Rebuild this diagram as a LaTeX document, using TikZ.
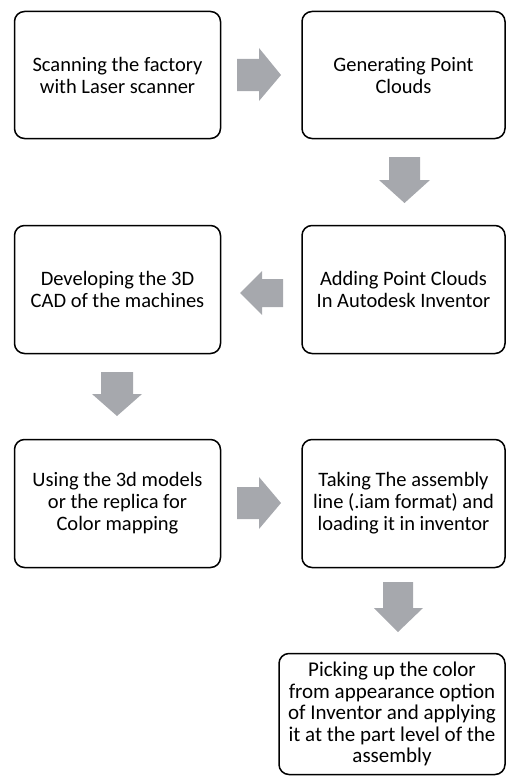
\documentclass[tikz,border=0pt]{standalone}
\usepackage{fontspec}
\setmainfont{Carlito}
\definecolor{arrowgray}{RGB}{166,168,173}
\tikzset{
  stepbox/.style={draw=black, line width=1.5pt, rounded corners=10pt, align=center,
    font=\fontsize{20.5}{22}\selectfont, inner sep=0pt},
  bigtext/.style={font=\fontsize{21}{21.5}\selectfont},
  blockarrow/.style={fill=arrowgray, draw=none}
}
\begin{document}
\begin{tikzpicture}[x=1pt,y=-1pt]
\useasboundingbox (0,0) rectangle (506,776);
\node[stepbox, minimum width=206pt, minimum height=127pt] (b1) at (117.5,75) {Scanning the factory\\with Laser scanner};
\node[stepbox, minimum width=203pt, minimum height=127pt] (b2) at (403.5,75) {Generating Point\\Clouds};
\node[stepbox, minimum width=203pt, minimum height=128pt] (b3) at (403.5,289.5) {Adding Point Clouds\\In Autodesk Inventor};
\node[stepbox, minimum width=206pt, minimum height=128pt] (b4) at (117.5,289.5) {Developing the 3D\\CAD of the machines};
\node[stepbox, minimum width=206pt, minimum height=128pt] (b5) at (117.5,503.5) {Using the 3d models\\or the replica for\\Color mapping};
\node[stepbox, minimum width=203pt, minimum height=128pt] (b6) at (403.5,503.5) {Taking The assembly\\line (.iam format) and\\loading it in inventor};
\node[stepbox, bigtext, minimum width=226pt, minimum height=121pt] (b7) at (392,714) {Picking up the color\\from appearance option\\of Inventor and applying\\it at the part level of the\\assembly};
% block arrows
\fill[blockarrow] (237,59) -- (259,59) -- (259,48) -- (281,75) -- (259,101) -- (259,91) -- (237,91) -- cycle;
\fill[blockarrow] (389,157) -- (420,157) -- (420,180) -- (430,180) -- (404.5,203) -- (379,180) -- (389,180) -- cycle;
\fill[blockarrow] (283,279) -- (262,279) -- (262,271) -- (240,293) -- (262,315) -- (262,307) -- (283,307) -- cycle;
\fill[blockarrow] (101,372) -- (133,372) -- (133,394) -- (142,394) -- (117,416) -- (92,394) -- (101,394) -- cycle;
\fill[blockarrow] (237,487) -- (259,487) -- (259,477) -- (281,503) -- (259,529) -- (259,519) -- (237,519) -- cycle;
\fill[blockarrow] (383,582) -- (413,582) -- (413,608) -- (423,608) -- (398,632) -- (374,608) -- (383,608) -- cycle;
\end{tikzpicture}
\end{document}
